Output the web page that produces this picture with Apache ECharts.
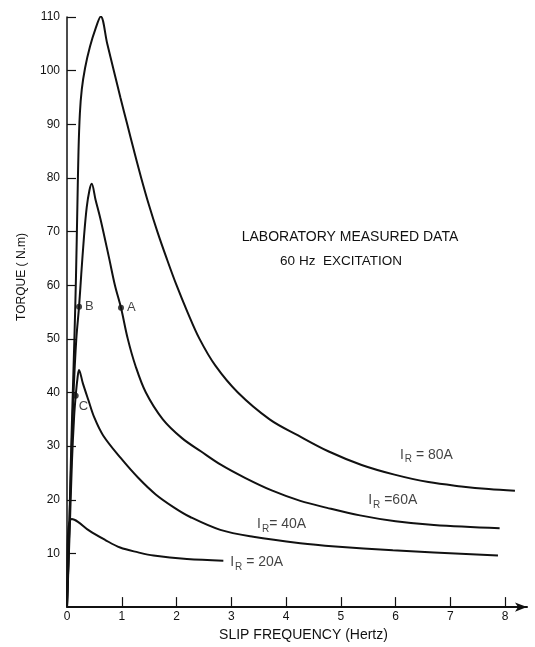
<!DOCTYPE html>
<html>
<head>
<meta charset="utf-8">
<script src="https://cdn.jsdelivr.net/npm/echarts@6/dist/echarts.min.js"></script>
<style>
html,body{margin:0;padding:0;background:#fff;}
#chart{width:535px;height:647px;}
</style>
</head>
<body>
<div id="chart"></div>
<script>
// Tick values
const xTickValues = [0, 1, 2, 3, 4, 5, 6, 7, 8];
const yTickValues = [10, 20, 30, 40, 50, 60, 70, 80, 90, 100, 110];

// Measured torque curves [slip frequency (Hz), torque (N.m)]
const ir80 = [
  [0,0],[0.03,10],[0.065,25],[0.1,38],[0.135,50],[0.165,62],[0.19,75],[0.21,85],
  [0.235,92],[0.27,96.5],[0.33,100.5],[0.42,104.5],[0.52,107.8],[0.616,110.1],
  [0.735,105],[0.855,100],[0.975,95],[1.1,90],[1.225,85],[1.355,80],[1.495,75],
  [1.65,70],[1.82,65],[2.0,60],[2.2,55],[2.42,50],[2.71,45],[3.12,40],[3.7,35],
  [4.22,32],[4.78,29],[5.38,26.5],[5.98,24.7],[6.6,23.3],[7.2,22.5],[7.7,22.0],[8.18,21.7]
];
const ir60 = [
  [0,0],[0.04,14],[0.08,28],[0.12,40],[0.17,50],[0.22,56],[0.26,62],[0.31,69],
  [0.36,74.5],[0.41,77.7],[0.451,78.9],
  [0.52,76],[0.61,72.4],[0.77,65],[0.875,60],[0.986,55.8],[1.11,50],[1.25,45],
  [1.44,40],[1.75,35],[2.1,31.5],[2.45,29],[2.8,26.6],[3.25,24.1],[3.75,21.7],
  [4.26,19.8],[4.75,18.5],[5.35,17.1],[6.0,16.0],[6.7,15.3],[7.9,14.7]
];
const ir40 = [
  [0,0],[0.045,13],[0.09,27],[0.13,35.5],[0.159,39.4],[0.19,42.5],[0.219,44.2],
  [0.29,41.7],[0.39,38.6],[0.5,35.3],[0.66,32],[0.98,27.8],[1.3,24.1],[1.62,21],
  [1.95,18.6],[2.25,16.8],[2.8,14.4],[3.4,13.1],[4.26,11.9],[4.9,11.3],[5.95,10.6],[7.87,9.6]
];
const ir20 = [
  [0,0],[0.005,8],[0.013,12.4],[0.03,15],[0.06,16.2],[0.086,16.4],[0.2,15.9],
  [0.4,14.3],[0.7,12.5],[0.97,11.1],[1.3,10.2],[1.58,9.6],[2.19,8.96],[2.855,8.66]
];

// Marked operating points
const pointNames = ['A', 'B', 'C'];
const pointValues = [[0.986, 55.8], [0.22, 56.0], [0.159, 39.4]];

// Curve labels: text and anchor (left edge) in data units
const curveLabelText = ['80A', '60A', '40A', '20A'];
const curveLabelEq = [' = ', ' =', '= ', ' = '];
const curveLabelPos = [[6.08, 28.4], [5.50, 19.85], [3.47, 15.4], [2.98, 8.35]];

const FONT = 'Liberation Sans';
const INK = '#111';

const chart = echarts.init(document.getElementById('chart'));

const lineSeries = (name, data) => ({
  name: name,
  type: 'line',
  data: data,
  showSymbol: false,
  smooth: 0.35,
  lineStyle: { color: INK, width: 2 },
  silent: true,
  z: 2
});

chart.setOption({
  animation: false,
  backgroundColor: '#fff',
  grid: { left: 67, right: 8, top: 17, bottom: 37, containLabel: false },
  xAxis: {
    type: 'value',
    min: 0,
    max: 8.4,
    name: 'SLIP FREQUENCY (Hertz)',
    nameLocation: 'middle',
    nameGap: 19,
    nameTextStyle: { fontFamily: FONT, fontSize: 14, color: INK, padding: [0, 0, 0, 13] },
    axisLine: { show: true, lineStyle: { color: INK, width: 2 }, symbol: ['none', 'arrow'], symbolSize: [7, 12] },
    axisTick: { show: true, inside: true, length: 10, lineStyle: { color: INK, width: 1.2 }, customValues: xTickValues.slice(1) },
    axisLabel: { fontFamily: FONT, fontSize: 12, color: INK, margin: 4, customValues: xTickValues },
    splitLine: { show: false }
  },
  yAxis: {
    type: 'value',
    min: 0,
    max: 110,
    axisLine: { show: true, lineStyle: { color: INK, width: 1.5 } },
    axisTick: { show: true, inside: true, length: 9, lineStyle: { color: INK, width: 1.2 }, customValues: yTickValues },
    axisLabel: { fontFamily: FONT, fontSize: 12, color: INK, margin: 7, customValues: yTickValues },
    splitLine: { show: false }
  },
  graphic: [
    { type: 'text', x: 22, y: 277, rotation: Math.PI / 2,
      style: { text: 'TORQUE ( N.m)', fontFamily: FONT, fontSize: 12, fill: INK, align: 'center', verticalAlign: 'middle' } },
    { type: 'text', x: 350, y: 237,
      style: { text: 'LABORATORY MEASURED DATA', fontFamily: FONT, fontSize: 14, fill: INK, align: 'center', verticalAlign: 'middle' } },
    { type: 'text', x: 341, y: 261,
      style: { text: '60 Hz  EXCITATION', fontFamily: FONT, fontSize: 13.5, fill: INK, align: 'center', verticalAlign: 'middle' } }
  ],
  series: [
    lineSeries('IR = 80A', ir80),
    lineSeries('IR = 60A', ir60),
    lineSeries('IR = 40A', ir40),
    lineSeries('IR = 20A', ir20),
    {
      name: 'points',
      type: 'scatter',
      data: pointValues.map((v, i) => ({
        value: v,
        name: pointNames[i],
        label: i === 2 ? { position: 'right', offset: [-3, 11] } : { position: 'right', offset: [0, 0] }
      })),
      symbol: 'circle',
      symbolSize: 6,
      itemStyle: { color: INK },
      label: { show: true, formatter: '{b}', fontFamily: FONT, fontSize: 13, color: INK, distance: 3 },
      z: 5,
      silent: true
    },
    {
      name: 'curve labels',
      type: 'scatter',
      data: curveLabelPos.map((p, i) => ({ value: p, name: curveLabelText[i], eq: curveLabelEq[i] })),
      symbolSize: 0,
      silent: true,
      label: {
        show: true,
        position: 'right',
        distance: 0,
        formatter: (p) => '{i|I}{s|R}{t|' + p.data.eq + p.name + '}',
        rich: {
          i: { fontFamily: FONT, fontSize: 14, color: INK },
          s: { fontFamily: FONT, fontSize: 10, color: INK, padding: [9, 0, 0, 1] },
          t: { fontFamily: FONT, fontSize: 14, color: INK }
        }
      },
      z: 6
    }
  ]
});
</script>
</body>
</html>
